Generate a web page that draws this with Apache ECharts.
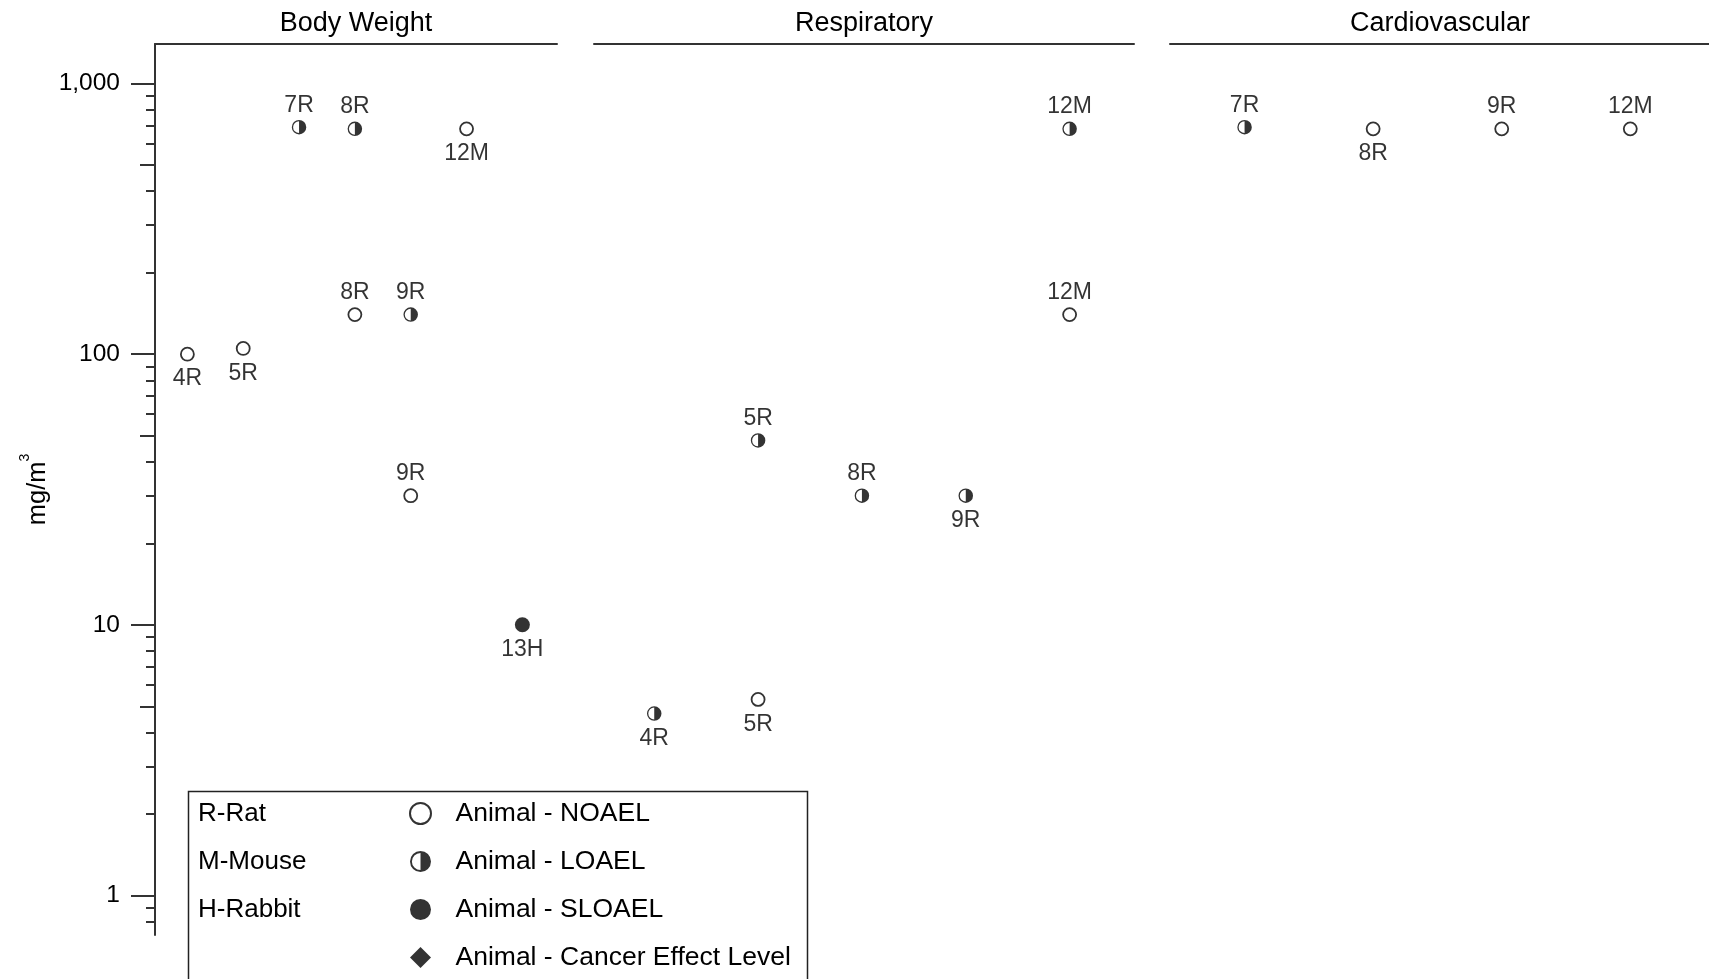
<!DOCTYPE html>
<html>
<head>
<meta charset="utf-8">
<script src="https://cdn.jsdelivr.net/npm/echarts@6/dist/echarts.min.js"></script>
<style>
  html, body { margin: 0; padding: 0; background: #fff; }
  #chart { width: 1709px; height: 979px; }
</style>
</head>
<body>
<div id="chart"></div>
<script>
// ---- Data -------------------------------------------------------------
const panelTitles = ['Body Weight', 'Respiratory', 'Cardiovascular'];

// One column per study in each panel, in plotting order
const bodyWeightStudies = ['4R', '5R', '7R', '8R', '9R', '12M', '13H'];
const respiratoryStudies = ['4R', '5R', '8R', '9R', '12M'];
const cardiovascularStudies = ['7R', '8R', '9R', '12M'];

// Exposure levels (mg/m3) and effect level of each plotted study point
const bodyWeightPoint = ['4R', '5R', '7R', '8R', '8R', '9R', '9R', '12M', '13H'];
const bodyWeightDose = [100, 105, 690, 680, 140, 140, 30, 680, 10];
const bodyWeightEffect = ['NOAEL', 'NOAEL', 'LOAEL', 'LOAEL', 'NOAEL', 'LOAEL', 'NOAEL', 'NOAEL', 'SLOAEL'];

const respiratoryPoint = ['4R', '5R', '5R', '8R', '9R', '12M', '12M'];
const respiratoryDose = [4.7, 48, 5.3, 30, 30, 680, 140];
const respiratoryEffect = ['LOAEL', 'LOAEL', 'NOAEL', 'LOAEL', 'LOAEL', 'LOAEL', 'NOAEL'];

const cardiovascularPoint = ['7R', '8R', '9R', '12M'];
const cardiovascularDose = [690, 680, 680, 680];
const cardiovascularEffect = ['LOAEL', 'NOAEL', 'NOAEL', 'NOAEL'];

// Log axis ticks
const yTickValues = [1, 10, 100, 1000];
const yMidTickValues = [5, 50, 500];
const yMinorTickValues = [0.8, 0.9, 2, 3, 4, 6, 7, 8, 9, 20, 30, 40, 60, 70, 80, 90,
                          200, 300, 400, 600, 700, 800, 900];

// Key
const speciesKey = ['R-Rat', 'M-Mouse', 'H-Rabbit'];
const effectLevels = ['NOAEL', 'LOAEL', 'SLOAEL', 'Cancer Effect Level'];

// ---- Label placement (above / below each mark) -------------------------
const bodyWeightLabelSide = ['bottom', 'bottom', 'top', 'top', 'top', 'top', 'top', 'bottom', 'bottom'];
const respiratoryLabelSide = ['bottom', 'top', 'bottom', 'top', 'bottom', 'top', 'top'];
const cardiovascularLabelSide = ['top', 'bottom', 'top', 'top'];

// ---- Layout & style ----------------------------------------------------
const FONT = "'Liberation Sans', Arial, sans-serif";
const INK = '#000';
const LINE = '#333';
const panelLeft = [155, 594, 1170];
const panelWidth = [402, 540, 540];
const plotTop = 44;
const plotHeight = 891;
const yMin = 0.714;
const yMax = 1400;

// Left half open, right half filled circle
const HALF_FILLED = 'path://M10,0A10,10,0,1,1,10,20A10,10,0,1,1,10,0ZM10,1.8A8.2,8.2,0,0,0,10,18.2Z';
const DIAMOND = 'path://M10,0L20,10L10,20L0,10Z';

const markerStyle = {
  NOAEL:  { symbol: 'circle', symbolSize: 13, itemStyle: { color: '#fff', borderColor: '#000', borderWidth: 1.8 } },
  LOAEL:  { symbol: HALF_FILLED, symbolSize: 14.5, itemStyle: { color: '#000', borderWidth: 0 } },
  SLOAEL: { symbol: 'circle', symbolSize: 15, itemStyle: { color: '#000', borderWidth: 0 } },
  'Cancer Effect Level': { symbol: DIAMOND, symbolSize: 22, itemStyle: { color: '#000', borderWidth: 0 } }
};
const labelDistance = { top: 3, bottom: 6 };

const panels = [
  { studies: bodyWeightStudies, point: bodyWeightPoint, dose: bodyWeightDose, effect: bodyWeightEffect, side: bodyWeightLabelSide },
  { studies: respiratoryStudies, point: respiratoryPoint, dose: respiratoryDose, effect: respiratoryEffect, side: respiratoryLabelSide },
  { studies: cardiovascularStudies, point: cardiovascularPoint, dose: cardiovascularDose, effect: cardiovascularEffect, side: cardiovascularLabelSide }
];

const grids = panels.map((p, i) => ({
  left: panelLeft[i], top: plotTop, width: panelWidth[i], height: plotHeight,
  show: false, containLabel: false, outerBoundsMode: 'none'
}));

const xAxes = panels.map((p, i) => ({
  type: 'value', gridIndex: i, position: 'top',
  min: -0.58, max: p.studies.length - 1 + 0.62,
  axisLine: { show: true, onZero: false, lineStyle: { color: LINE, width: 2 } },
  axisTick: { show: false }, axisLabel: { show: false }, splitLine: { show: false },
  name: panelTitles[i], nameLocation: 'middle', nameGap: 7,
  nameTextStyle: { fontFamily: FONT, fontSize: 27, color: INK }
}));

const logAxisBase = { type: 'log', logBase: 10, min: yMin, max: yMax, splitLine: { show: false } };

const yAxes = [
  Object.assign({}, logAxisBase, {
    gridIndex: 0, position: 'left', offset: 0,
    axisLine: { show: true, onZero: false, lineStyle: { color: LINE, width: 2 } },
    axisTick: { show: true, inside: false, length: 24, customValues: yTickValues, lineStyle: { color: LINE, width: 2 } },
    axisLabel: {
      show: true, customValues: yTickValues, margin: 35,
      fontFamily: FONT, fontSize: 24.5, color: INK,
      formatter: v => Math.round(v).toLocaleString('en-US')
    },
    name: '{u|mg/m}{s|3}', nameLocation: 'middle', nameRotate: 90, nameGap: 97,
    nameTextStyle: {
      rich: {
        u: { fontFamily: FONT, fontSize: 25.5, lineHeight: 40, color: INK },
        s: { fontFamily: FONT, fontSize: 14, lineHeight: 14, verticalAlign: 'top', color: INK }
      }
    }
  }),
  Object.assign({}, logAxisBase, { gridIndex: 1, show: false }),
  Object.assign({}, logAxisBase, { gridIndex: 2, show: false }),
  // intermediate (5x) ticks
  Object.assign({}, logAxisBase, {
    gridIndex: 0, position: 'left', offset: 0,
    axisLine: { show: false, onZero: false },
    axisTick: { show: true, inside: false, length: 15, customValues: yMidTickValues, lineStyle: { color: LINE, width: 2 } },
    axisLabel: { show: false }
  }),
  // minor ticks
  Object.assign({}, logAxisBase, {
    gridIndex: 0, position: 'left', offset: 0,
    axisLine: { show: false, onZero: false },
    axisTick: { show: true, inside: false, length: 9, customValues: yMinorTickValues, lineStyle: { color: LINE, width: 2 } },
    axisLabel: { show: false }
  })
];

const series = [];
panels.forEach((p, gi) => {
  ['NOAEL', 'LOAEL', 'SLOAEL'].forEach(level => {
    const data = [];
    p.point.forEach((study, k) => {
      if (p.effect[k] !== level) return;
      data.push({
        name: study,
        value: [p.studies.indexOf(study), p.dose[k]],
        label: { position: p.side[k], distance: labelDistance[p.side[k]] }
      });
    });
    if (!data.length) return;
    series.push(Object.assign({
      type: 'scatter', name: 'Animal - ' + level,
      xAxisIndex: gi, yAxisIndex: gi, data,
      label: { show: true, formatter: '{b}', fontFamily: FONT, fontSize: 23, color: INK },
      emphasis: { disabled: true }, silent: true, z: 3
    }, markerStyle[level]));
  });
});
// Cancer effect level: listed in the key, no points in these panels
series.push(Object.assign({
  type: 'scatter', name: 'Animal - Cancer Effect Level', xAxisIndex: 0, yAxisIndex: 0, data: []
}, markerStyle['Cancer Effect Level']));

const option = {
  backgroundColor: '#fff',
  animation: false,
  grid: grids,
  xAxis: xAxes,
  yAxis: yAxes,
  series,
  legend: {
    type: 'plain', orient: 'vertical', left: 409, top: 800, height: 240, padding: 0,
    itemWidth: 60, itemHeight: 21, itemGap: 21,
    symbolKeepAspect: true, selectedMode: false,
    textStyle: { fontFamily: FONT, fontSize: 26.5, color: INK },
    data: effectLevels.map(l => ({ name: 'Animal - ' + l }))
  },
  graphic: [
    { type: 'rect', left: 186, top: 789, z: 10, silent: true,
      shape: { width: 619, height: 260 },
      style: { fill: 'none', stroke: '#222', lineWidth: 1.5 } }
  ].concat(speciesKey.map((s, i) => ({
    type: 'text', left: 198, top: 801 + i * 48, z: 10, silent: true,
    style: { text: s, fontFamily: FONT, fontSize: 26, fill: INK }
  })))
};

const chart = echarts.init(document.getElementById('chart'), null, { renderer: 'canvas' });
chart.setOption(option);
</script>
</body>
</html>
